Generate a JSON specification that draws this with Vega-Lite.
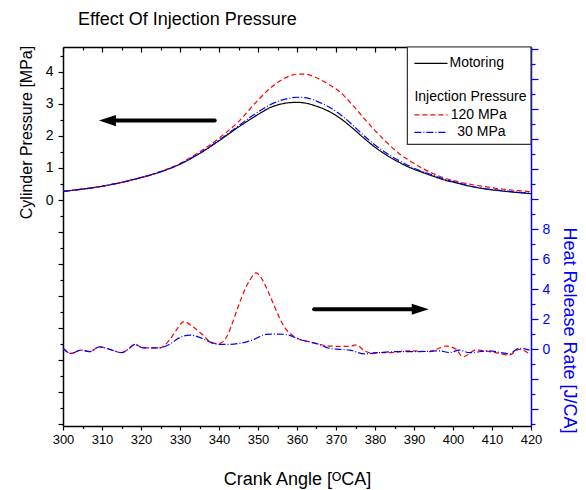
{
  "$schema": "https://vega.github.io/schema/vega-lite/v6.json",
  "width": 468,
  "height": 379,
  "autosize": {"type": "none"},
  "padding": {"left": 63, "top": 47, "right": 55, "bottom": 64},
  "title": {"text": "Effect Of Injection Pressure", "anchor": "start", "frame": "group", "dx": 15, "offset": 13, "fontSize": 18, "fontWeight": "normal", "color": "black"},
  "config": {
    "font": "Liberation Sans",
    "view": {"stroke": null},
    "axis": {"zindex": 1, "grid": false, "labelFontSize": 14, "titleFontSize": 18, "titleFontWeight": "normal", "labelOverlap": false, "labelFlush": false, "domainWidth": 1.5, "tickWidth": 1.2}
  },
  "datasets": {
    "pressure": [
      {"ca": 300, "p": 0.27, "series": "Motoring"}, {"ca": 305, "p": 0.34, "series": "Motoring"}, {"ca": 310, "p": 0.43, "series": "Motoring"}, {"ca": 315, "p": 0.55, "series": "Motoring"}, {"ca": 320, "p": 0.70, "series": "Motoring"}, {"ca": 325, "p": 0.88, "series": "Motoring"}, {"ca": 330, "p": 1.12, "series": "Motoring"}, {"ca": 335, "p": 1.45, "series": "Motoring"}, {"ca": 340, "p": 1.85, "series": "Motoring"}, {"ca": 345, "p": 2.28, "series": "Motoring"}, {"ca": 350, "p": 2.67, "series": "Motoring"}, {"ca": 353, "p": 2.88, "series": "Motoring"}, {"ca": 356, "p": 3.00, "series": "Motoring"}, {"ca": 358, "p": 3.04, "series": "Motoring"}, {"ca": 360, "p": 3.05, "series": "Motoring"}, {"ca": 362, "p": 3.03, "series": "Motoring"}, {"ca": 365, "p": 2.93, "series": "Motoring"}, {"ca": 368, "p": 2.78, "series": "Motoring"}, {"ca": 371, "p": 2.56, "series": "Motoring"}, {"ca": 374, "p": 2.27, "series": "Motoring"}, {"ca": 377, "p": 1.95, "series": "Motoring"}, {"ca": 380, "p": 1.65, "series": "Motoring"}, {"ca": 383, "p": 1.40, "series": "Motoring"}, {"ca": 386, "p": 1.19, "series": "Motoring"}, {"ca": 389, "p": 1.01, "series": "Motoring"}, {"ca": 392, "p": 0.87, "series": "Motoring"}, {"ca": 395, "p": 0.74, "series": "Motoring"}, {"ca": 398, "p": 0.62, "series": "Motoring"}, {"ca": 401, "p": 0.53, "series": "Motoring"}, {"ca": 404, "p": 0.44, "series": "Motoring"}, {"ca": 408, "p": 0.35, "series": "Motoring"}, {"ca": 412, "p": 0.29, "series": "Motoring"}, {"ca": 416, "p": 0.24, "series": "Motoring"}, {"ca": 420, "p": 0.20, "series": "Motoring"},
      {"ca": 300, "p": 0.27, "series": "120 MPa"}, {"ca": 305, "p": 0.34, "series": "120 MPa"}, {"ca": 310, "p": 0.43, "series": "120 MPa"}, {"ca": 315, "p": 0.55, "series": "120 MPa"}, {"ca": 320, "p": 0.70, "series": "120 MPa"}, {"ca": 325, "p": 0.89, "series": "120 MPa"}, {"ca": 330, "p": 1.14, "series": "120 MPa"}, {"ca": 335, "p": 1.50, "series": "120 MPa"}, {"ca": 340, "p": 1.93, "series": "120 MPa"}, {"ca": 345, "p": 2.45, "series": "120 MPa"}, {"ca": 350, "p": 3.12, "series": "120 MPa"}, {"ca": 353, "p": 3.48, "series": "120 MPa"}, {"ca": 356, "p": 3.75, "series": "120 MPa"}, {"ca": 358, "p": 3.87, "series": "120 MPa"}, {"ca": 360, "p": 3.93, "series": "120 MPa"}, {"ca": 362, "p": 3.93, "series": "120 MPa"}, {"ca": 365, "p": 3.82, "series": "120 MPa"}, {"ca": 368, "p": 3.62, "series": "120 MPa"}, {"ca": 371, "p": 3.38, "series": "120 MPa"}, {"ca": 374, "p": 3.00, "series": "120 MPa"}, {"ca": 377, "p": 2.58, "series": "120 MPa"}, {"ca": 380, "p": 2.17, "series": "120 MPa"}, {"ca": 383, "p": 1.80, "series": "120 MPa"}, {"ca": 386, "p": 1.47, "series": "120 MPa"}, {"ca": 389, "p": 1.22, "series": "120 MPa"}, {"ca": 392, "p": 1.00, "series": "120 MPa"}, {"ca": 395, "p": 0.82, "series": "120 MPa"}, {"ca": 398, "p": 0.68, "series": "120 MPa"}, {"ca": 401, "p": 0.58, "series": "120 MPa"}, {"ca": 404, "p": 0.50, "series": "120 MPa"}, {"ca": 408, "p": 0.42, "series": "120 MPa"}, {"ca": 412, "p": 0.35, "series": "120 MPa"}, {"ca": 416, "p": 0.30, "series": "120 MPa"}, {"ca": 420, "p": 0.26, "series": "120 MPa"},
      {"ca": 300, "p": 0.27, "series": "30 MPa"}, {"ca": 305, "p": 0.34, "series": "30 MPa"}, {"ca": 310, "p": 0.43, "series": "30 MPa"}, {"ca": 315, "p": 0.55, "series": "30 MPa"}, {"ca": 320, "p": 0.70, "series": "30 MPa"}, {"ca": 325, "p": 0.88, "series": "30 MPa"}, {"ca": 330, "p": 1.12, "series": "30 MPa"}, {"ca": 335, "p": 1.46, "series": "30 MPa"}, {"ca": 340, "p": 1.87, "series": "30 MPa"}, {"ca": 345, "p": 2.32, "series": "30 MPa"}, {"ca": 350, "p": 2.75, "series": "30 MPa"}, {"ca": 353, "p": 2.97, "series": "30 MPa"}, {"ca": 356, "p": 3.12, "series": "30 MPa"}, {"ca": 358, "p": 3.18, "series": "30 MPa"}, {"ca": 360, "p": 3.21, "series": "30 MPa"}, {"ca": 362, "p": 3.20, "series": "30 MPa"}, {"ca": 365, "p": 3.09, "series": "30 MPa"}, {"ca": 368, "p": 2.92, "series": "30 MPa"}, {"ca": 371, "p": 2.68, "series": "30 MPa"}, {"ca": 374, "p": 2.37, "series": "30 MPa"}, {"ca": 377, "p": 2.03, "series": "30 MPa"}, {"ca": 380, "p": 1.72, "series": "30 MPa"}, {"ca": 383, "p": 1.46, "series": "30 MPa"}, {"ca": 386, "p": 1.24, "series": "30 MPa"}, {"ca": 389, "p": 1.05, "series": "30 MPa"}, {"ca": 392, "p": 0.90, "series": "30 MPa"}, {"ca": 395, "p": 0.77, "series": "30 MPa"}, {"ca": 398, "p": 0.64, "series": "30 MPa"}, {"ca": 401, "p": 0.55, "series": "30 MPa"}, {"ca": 404, "p": 0.45, "series": "30 MPa"}, {"ca": 408, "p": 0.36, "series": "30 MPa"}, {"ca": 412, "p": 0.30, "series": "30 MPa"}, {"ca": 416, "p": 0.25, "series": "30 MPa"}, {"ca": 420, "p": 0.21, "series": "30 MPa"}
    ],
    "hrr": [
      {"ca": 300, "h": 0.07, "series": "120 MPa"}, {"ca": 302, "h": -0.27, "series": "120 MPa"}, {"ca": 304.7, "h": -0.05, "series": "120 MPa"}, {"ca": 306.8, "h": -0.15, "series": "120 MPa"}, {"ca": 309.4, "h": 0.17, "series": "120 MPa"}, {"ca": 312, "h": 0.0, "series": "120 MPa"}, {"ca": 315, "h": -0.22, "series": "120 MPa"}, {"ca": 316.7, "h": 0.0, "series": "120 MPa"}, {"ca": 318.4, "h": 0.33, "series": "120 MPa"}, {"ca": 320.5, "h": 0.1, "series": "120 MPa"}, {"ca": 324.8, "h": 0.1, "series": "120 MPa"}, {"ca": 327.3, "h": 0.62, "series": "120 MPa"}, {"ca": 329.1, "h": 1.3, "series": "120 MPa"}, {"ca": 331, "h": 1.85, "series": "120 MPa"}, {"ca": 333.3, "h": 1.5, "series": "120 MPa"}, {"ca": 335.9, "h": 0.95, "series": "120 MPa"}, {"ca": 338.4, "h": 0.4, "series": "120 MPa"}, {"ca": 340.1, "h": 0.4, "series": "120 MPa"}, {"ca": 342, "h": 0.85, "series": "120 MPa"}, {"ca": 343.5, "h": 1.8, "series": "120 MPa"}, {"ca": 345, "h": 2.9, "series": "120 MPa"}, {"ca": 346.5, "h": 3.9, "series": "120 MPa"}, {"ca": 348, "h": 4.65, "series": "120 MPa"}, {"ca": 349.5, "h": 5.1, "series": "120 MPa"}, {"ca": 351, "h": 4.7, "series": "120 MPa"}, {"ca": 352.5, "h": 3.9, "series": "120 MPa"}, {"ca": 354, "h": 3.0, "series": "120 MPa"}, {"ca": 355.5, "h": 2.1, "series": "120 MPa"}, {"ca": 357, "h": 1.4, "series": "120 MPa"}, {"ca": 358.5, "h": 1.0, "series": "120 MPa"}, {"ca": 360.6, "h": 0.67, "series": "120 MPa"}, {"ca": 363.2, "h": 0.5, "series": "120 MPa"}, {"ca": 365.7, "h": 0.33, "series": "120 MPa"}, {"ca": 368.3, "h": 0.22, "series": "120 MPa"}, {"ca": 370.8, "h": 0.2, "series": "120 MPa"}, {"ca": 373.5, "h": 0.2, "series": "120 MPa"}, {"ca": 375.2, "h": 0.3, "series": "120 MPa"}, {"ca": 377.3, "h": -0.1, "series": "120 MPa"}, {"ca": 378.6, "h": -0.22, "series": "120 MPa"}, {"ca": 383.7, "h": -0.22, "series": "120 MPa"}, {"ca": 388.8, "h": -0.1, "series": "120 MPa"}, {"ca": 394, "h": -0.15, "series": "120 MPa"}, {"ca": 398.2, "h": 0.22, "series": "120 MPa"}, {"ca": 400.8, "h": 0.0, "series": "120 MPa"}, {"ca": 402.5, "h": -0.5, "series": "120 MPa"}, {"ca": 405.9, "h": -0.05, "series": "120 MPa"}, {"ca": 409.3, "h": -0.15, "series": "120 MPa"}, {"ca": 411.9, "h": -0.27, "series": "120 MPa"}, {"ca": 414.4, "h": -0.38, "series": "120 MPa"}, {"ca": 417, "h": 0.0, "series": "120 MPa"}, {"ca": 419.6, "h": -0.3, "series": "120 MPa"},
      {"ca": 300, "h": 0.07, "series": "30 MPa"}, {"ca": 302, "h": -0.27, "series": "30 MPa"}, {"ca": 304.7, "h": -0.05, "series": "30 MPa"}, {"ca": 306.8, "h": -0.15, "series": "30 MPa"}, {"ca": 309.4, "h": 0.17, "series": "30 MPa"}, {"ca": 312, "h": 0.0, "series": "30 MPa"}, {"ca": 315, "h": -0.22, "series": "30 MPa"}, {"ca": 316.7, "h": 0.0, "series": "30 MPa"}, {"ca": 318.4, "h": 0.33, "series": "30 MPa"}, {"ca": 320.5, "h": 0.1, "series": "30 MPa"}, {"ca": 324.8, "h": 0.1, "series": "30 MPa"}, {"ca": 327.3, "h": 0.33, "series": "30 MPa"}, {"ca": 329.9, "h": 0.78, "series": "30 MPa"}, {"ca": 332.5, "h": 0.95, "series": "30 MPa"}, {"ca": 335, "h": 0.8, "series": "30 MPa"}, {"ca": 337.6, "h": 0.5, "series": "30 MPa"}, {"ca": 340.1, "h": 0.33, "series": "30 MPa"}, {"ca": 342.7, "h": 0.33, "series": "30 MPa"}, {"ca": 345.3, "h": 0.4, "series": "30 MPa"}, {"ca": 348.6, "h": 0.62, "series": "30 MPa"}, {"ca": 352.1, "h": 1.0, "series": "30 MPa"}, {"ca": 355.5, "h": 1.02, "series": "30 MPa"}, {"ca": 358.1, "h": 0.93, "series": "30 MPa"}, {"ca": 360.6, "h": 0.67, "series": "30 MPa"}, {"ca": 363.2, "h": 0.5, "series": "30 MPa"}, {"ca": 365.7, "h": 0.33, "series": "30 MPa"}, {"ca": 368.3, "h": 0.07, "series": "30 MPa"}, {"ca": 370.8, "h": 0.0, "series": "30 MPa"}, {"ca": 373.5, "h": -0.05, "series": "30 MPa"}, {"ca": 377.3, "h": -0.3, "series": "30 MPa"}, {"ca": 381.1, "h": -0.22, "series": "30 MPa"}, {"ca": 386.2, "h": -0.15, "series": "30 MPa"}, {"ca": 391.4, "h": -0.15, "series": "30 MPa"}, {"ca": 396.5, "h": -0.1, "series": "30 MPa"}, {"ca": 399.1, "h": -0.22, "series": "30 MPa"}, {"ca": 401.6, "h": -0.05, "series": "30 MPa"}, {"ca": 404.2, "h": -0.22, "series": "30 MPa"}, {"ca": 409.3, "h": -0.1, "series": "30 MPa"}, {"ca": 411.9, "h": -0.2, "series": "30 MPa"}, {"ca": 414.4, "h": -0.3, "series": "30 MPa"}, {"ca": 417, "h": 0.07, "series": "30 MPa"}, {"ca": 419.6, "h": -0.05, "series": "30 MPa"}
    ]
  },
  "resolve": {"scale": {"y": "independent"}, "axis": {"x": "independent", "y": "independent"}},
  "layer": [
    {
      "data": {"name": "pressure"},
      "mark": {"type": "line", "strokeWidth": 1.2, "interpolate": "monotone"},
      "encoding": {
        "x": {"field": "ca", "type": "quantitative", "scale": {"domain": [300, 420], "nice": false, "zero": false},
          "axis": {"orient": "bottom", "title": "Crank Angle [ᴼCA]", "values": [300,305,310,315,320,325,330,335,340,345,350,355,360,365,370,375,380,385,390,395,400,405,410,415,420],
            "labelExpr": "datum.value % 10 === 0 ? datum.label : ''", "tickSize": {"condition": {"test": "datum.value % 10 === 0", "value": 4}, "value": 2.5},
            "labelFontSize": 13, "labelPadding": 3, "titleY": 58, "titleBaseline": "alphabetic", "domainColor": "black", "tickColor": "black", "labelColor": "black", "titleColor": "black"}},
        "y": {"field": "p", "type": "quantitative", "scale": {"domain": [-7.06, 4.78], "nice": false, "zero": false},
          "axis": {"orient": "left", "title": "Cylinder Pressure [MPa]", "values": [-7,-6.5,-6,-5.5,-5,-4.5,-4,-3.5,-3,-2.5,-2,-1.5,-1,-0.5,0,0.5,1,1.5,2,2.5,3,3.5,4,4.5],
            "labelExpr": "datum.value >= 0 && datum.value % 1 === 0 ? format(datum.value, 'd') : ''", "tickSize": {"condition": {"test": "datum.value % 1 === 0", "value": 5}, "value": 3},
            "labelPadding": 5, "titleFontSize": 16, "titleX": -37, "titleY": 85, "titleAngle": 270, "titleAlign": "center", "titleBaseline": "middle",
            "domainColor": "black", "tickColor": "black", "labelColor": "black", "titleColor": "black"}},
        "color": {"field": "series", "type": "nominal", "scale": {"domain": ["Motoring", "120 MPa", "30 MPa"], "range": ["#000000", "#ff0000", "#0000ff"]}, "legend": null},
        "strokeDash": {"field": "series", "type": "nominal", "scale": {"domain": ["Motoring", "120 MPa", "30 MPa"], "range": [[1, 0], [5, 3], [7, 2, 1, 2]]}, "legend": null}
      }
    },
    {
      "data": {"name": "hrr"},
      "mark": {"type": "line", "strokeWidth": 1.2, "interpolate": "monotone"},
      "encoding": {
        "x": {"field": "ca", "type": "quantitative", "scale": {"domain": [300, 420], "nice": false, "zero": false},
          "axis": {"orient": "top", "title": null, "labels": false, "values": [300,305,310,315,320,325,330,335,340,345,350,355,360,365,370,375,380,385,390,395,400,405,410,415,420],
            "tickSize": {"condition": {"test": "datum.value % 10 === 0", "value": -5}, "value": -3}, "domainColor": "black", "tickColor": "black"}},
        "y": {"field": "h", "type": "quantitative", "scale": {"domain": [-5.11, 20.15], "nice": false, "zero": false},
          "axis": {"orient": "right", "title": "Heat Release Rate [J/CA]", "values": [-5,-4,-3,-2,-1,0,1,2,3,4,5,6,7,8,9,10,11,12,13,14,15,16,17,18,19,20],
            "labelExpr": "datum.value >= 0 && datum.value <= 8 && datum.value % 2 === 0 ? datum.label : ''", "tickSize": {"condition": {"test": "datum.value % 2 === 0", "value": 7}, "value": 4},
            "labelPadding": 4, "titleX": 37, "titleY": 283, "titleAngle": 90, "titleAlign": "center", "titleBaseline": "middle",
            "domainColor": "#0000ff", "tickColor": "#0000ff", "labelColor": "#0000ff", "titleColor": "#0000ff"}},
        "color": {"field": "series", "type": "nominal", "scale": {"domain": ["Motoring", "120 MPa", "30 MPa"], "range": ["#000000", "#ff0000", "#0000ff"]}, "legend": null},
        "strokeDash": {"field": "series", "type": "nominal", "scale": {"domain": ["Motoring", "120 MPa", "30 MPa"], "range": [[1, 0], [5, 3], [7, 2, 1, 2]]}, "legend": null}
      }
    },
    {
      "data": {"values": [{"x1": 388.3, "x2": 420, "y1": 4.78, "y2": 1.74}]},
      "mark": {"type": "rect", "fill": "white", "stroke": "#333333", "strokeWidth": 1.2},
      "encoding": {
        "x": {"field": "x1", "type": "quantitative", "scale": {"domain": [300, 420], "nice": false, "zero": false}, "axis": null},
        "x2": {"field": "x2"},
        "y": {"field": "y1", "type": "quantitative", "scale": {"domain": [-7.06, 4.78], "nice": false, "zero": false}, "axis": null},
        "y2": {"field": "y2"}
      }
    },
    {
      "data": {"values": [
        {"x1": 390.1, "x2": 398.6, "y": 4.27, "series": "Motoring"},
        {"x1": 390.1, "x2": 398.6, "y": 2.66, "series": "120 MPa"},
        {"x1": 390.1, "x2": 398.6, "y": 2.11, "series": "30 MPa"}
      ]},
      "mark": {"type": "rule", "strokeWidth": 1.2},
      "encoding": {
        "x": {"field": "x1", "type": "quantitative", "scale": {"domain": [300, 420], "nice": false, "zero": false}, "axis": null},
        "x2": {"field": "x2"},
        "y": {"field": "y", "type": "quantitative", "scale": {"domain": [-7.06, 4.78], "nice": false, "zero": false}, "axis": null},
        "color": {"field": "series", "type": "nominal", "scale": {"domain": ["Motoring", "120 MPa", "30 MPa"], "range": ["#000000", "#ff0000", "#0000ff"]}, "legend": null},
        "strokeDash": {"field": "series", "type": "nominal", "scale": {"domain": ["Motoring", "120 MPa", "30 MPa"], "range": [[1, 0], [5, 3], [7, 2, 1, 2]]}, "legend": null}
      }
    },
    {
      "data": {"values": [
        {"x": 399.1, "y": 4.27, "label": "Motoring"},
        {"x": 390.1, "y": 3.23, "label": "Injection Pressure"},
        {"x": 399.4, "y": 2.66, "label": "120 MPa"},
        {"x": 401.1, "y": 2.11, "label": "30 MPa"}
      ]},
      "mark": {"type": "text", "align": "left", "baseline": "middle", "fontSize": 14, "color": "black"},
      "encoding": {
        "x": {"field": "x", "type": "quantitative", "scale": {"domain": [300, 420], "nice": false, "zero": false}, "axis": null},
        "y": {"field": "y", "type": "quantitative", "scale": {"domain": [-7.06, 4.78], "nice": false, "zero": false}, "axis": null},
        "text": {"field": "label"}
      }
    },
    {
      "data": {"values": [{"x1": 313, "x2": 338.9, "y": 2.48}]},
      "mark": {"type": "rule", "strokeWidth": 4, "strokeCap": "round", "color": "black"},
      "encoding": {
        "x": {"field": "x1", "type": "quantitative", "scale": {"domain": [300, 420], "nice": false, "zero": false}, "axis": null},
        "x2": {"field": "x2"},
        "y": {"field": "y", "type": "quantitative", "scale": {"domain": [-7.06, 4.78], "nice": false, "zero": false}, "axis": null}
      }
    },
    {
      "data": {"values": [{"x": 311.4, "y": 2.48}]},
      "mark": {"type": "point", "shape": "M -1 0 L 1 -0.65 L 1 0.65 Z", "size": 289, "filled": true, "color": "black", "opacity": 1, "strokeWidth": 0},
      "encoding": {
        "x": {"field": "x", "type": "quantitative", "scale": {"domain": [300, 420], "nice": false, "zero": false}, "axis": null},
        "y": {"field": "y", "type": "quantitative", "scale": {"domain": [-7.06, 4.78], "nice": false, "zero": false}, "axis": null}
      }
    },
    {
      "data": {"values": [{"x1": 364.4, "x2": 390, "y": 2.67}]},
      "mark": {"type": "rule", "strokeWidth": 4, "strokeCap": "round", "color": "black"},
      "encoding": {
        "x": {"field": "x1", "type": "quantitative", "scale": {"domain": [300, 420], "nice": false, "zero": false}, "axis": null},
        "x2": {"field": "x2"},
        "y": {"field": "y", "type": "quantitative", "scale": {"domain": [-5.11, 20.15], "nice": false, "zero": false}, "axis": null}
      }
    },
    {
      "data": {"values": [{"x": 391.6, "y": 2.67}]},
      "mark": {"type": "point", "shape": "M 1 0 L -1 -0.65 L -1 0.65 Z", "size": 289, "filled": true, "color": "black", "opacity": 1, "strokeWidth": 0},
      "encoding": {
        "x": {"field": "x", "type": "quantitative", "scale": {"domain": [300, 420], "nice": false, "zero": false}, "axis": null},
        "y": {"field": "y", "type": "quantitative", "scale": {"domain": [-5.11, 20.15], "nice": false, "zero": false}, "axis": null}
      }
    }
  ]
}
